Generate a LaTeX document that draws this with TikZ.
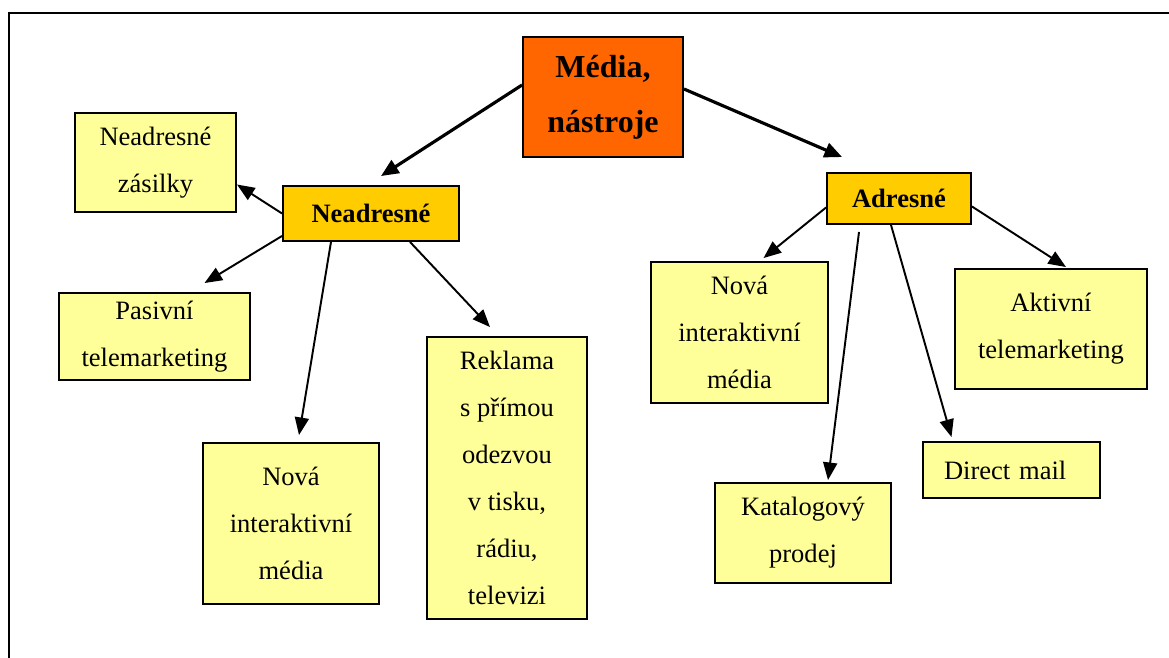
\documentclass[tikz,border=0pt]{standalone}
\usepackage{fontspec}
\setmainfont{Liberation Serif}
\usepackage{tikz}
\usetikzlibrary{arrows.meta,calc,positioning}
\usepackage{xcolor}
\definecolor{leafyellow}{HTML}{FFFF99}
\definecolor{branchgold}{HTML}{FFCC00}
\definecolor{rootorange}{HTML}{FF6600}

\tikzset{
  leaf/.style={rectangle, draw=black, line width=1.1pt, fill=leafyellow, align=center, inner sep=0pt,
    font=\fontsize{15.1pt}{26.7pt}\selectfont},
  branch/.style={leaf, fill=branchgold, font=\fontsize{15.1pt}{26.7pt}\selectfont\bfseries},
  root/.style={leaf, fill=rootorange, font=\fontsize{18.2pt}{31.3pt}\selectfont\bfseries},
  arr/.style={-{Triangle[length=10pt,width=8pt]}, line width=1.1pt},
  bigarr/.style={-{Triangle[length=10pt,width=8.5pt]}, line width=1.8pt}
}

\begin{document}
\begin{tikzpicture}[x=0.02cm, y=-0.02cm]
\useasboundingbox (0,0) rectangle (1169,658);
\draw [line width=1.1pt] (9,660) -- (9,13) -- (1169,13);

\node (media) [root, minimum width=3.2cm, minimum height=2.4cm] at (603,97) {Média,\\nástroje};
\node (neadr) [branch, minimum width=3.52cm, minimum height=1.1cm] at (371,213.5) {Neadresné};
\node (adr) [branch, minimum width=2.88cm, minimum height=1.02cm] at (899,198.5) {Adresné};

\node (nz) [leaf, minimum width=3.22cm, minimum height=1.98cm] at (155.5,162.5) {Neadresné\\zásilky};
\node (pasiv) [leaf, minimum width=3.82cm, minimum height=1.74cm] at (154.5,336.5) {Pasivní\\telemarketing};
\node (nova1) [leaf, minimum width=3.52cm, minimum height=3.22cm] at (291,523.5) {Nová\\interaktivní\\média};
\node (reklama) [leaf, minimum width=3.2cm, minimum height=5.64cm] at (507,478) {Reklama\\s přímou\\odezvou\\v tisku,\\rádiu,\\televizi};

\node (nova2) [leaf, minimum width=3.54cm, minimum height=2.82cm] at (739.5,332.5) {Nová\\interaktivní\\média};
\node (aktiv) [leaf, minimum width=3.84cm, minimum height=2.4cm] at (1051,329) {Aktivní\\telemarketing};
\node (direct) [leaf, minimum width=3.54cm, minimum height=1.12cm, text width=2.7cm, align=left] at (1011.5,470) {Direct mail};
\node (katalog) [leaf, minimum width=3.52cm, minimum height=2cm] at (803,533) {Katalogový\\prodej};

% root to branches
\draw [bigarr] ($(media.west)+(0,-12)$) -- ($(neadr.north)+(10,-9)$);
\draw [bigarr] ($(media.east)+(0,-8)$) -- ($(adr.north west)+(16,-15)$);

% neadresne
\draw [arr] (neadr.west) -- ($(nz.east)+(0,22)$);
\draw [arr] ($(neadr.south west)+(0,-6)$) -- ($(pasiv.north)+(50,-9)$);
\draw [arr] ($(neadr.south)+(-40,0)$) -- ($(nova1.north)+(8,-7)$);
\draw [arr] ($(neadr.south)+(39,0)$) -- ($(reklama.north)+(-17,-9)$);

% adresne
\draw [arr] ($(adr.west)+(0,9)$) -- ($(nova2.north)+(24,-3)$);
\draw [arr] ($(adr.south)+(-40,7)$) -- ($(katalog.north)+(25,-2)$);
\draw [arr] ($(adr.south)+(-8,0)$) -- ($(direct.north)+(-60,-4)$);
\draw [arr] ($(adr.east)+(0,8)$) -- ($(aktiv.north)+(15,-1)$);
\end{tikzpicture}
\end{document}
